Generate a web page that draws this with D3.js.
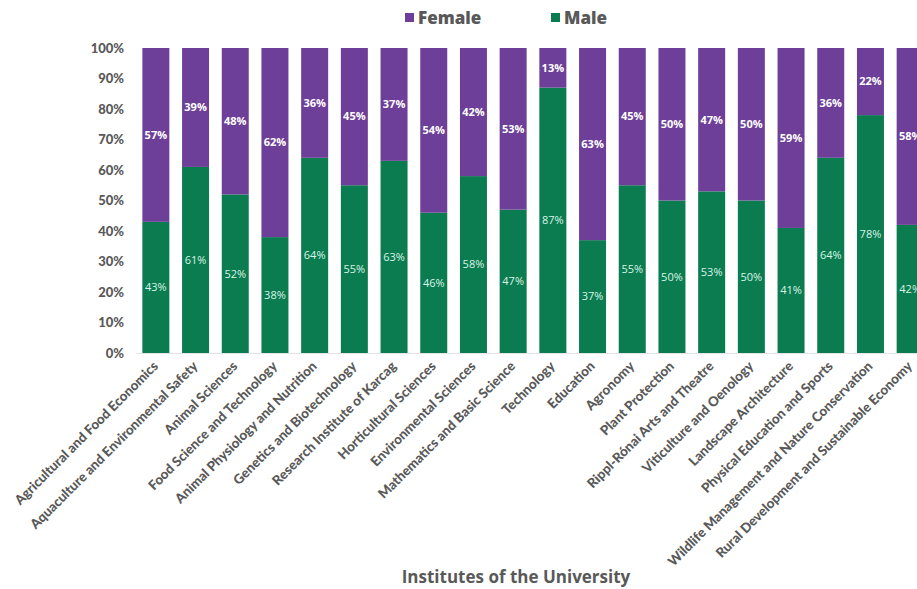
<!DOCTYPE html>
<html>
<head>
<meta charset="utf-8">
<script src="https://cdn.jsdelivr.net/npm/d3@7"></script>
<style>
  html, body { margin: 0; padding: 0; background: #fff; overflow: hidden; }
  svg { display: block; }
</style>
</head>
<body>
<svg id="chart" width="917" height="589"></svg>
<script>
// Institutes of the university
const institutes = [
  "Agricultural  and Food Economics",
  "Aquaculture and Environmental Safety",
  "Animal Sciences",
  "Food Science and Technology",
  "Animal Physiology and Nutrition",
  "Genetics and Biotechnology",
  "Research Institute of Karcag",
  "Horticultural Sciences",
  "Environmental Sciences",
  "Mathematics and Basic Science",
  "Technology",
  "Education",
  "Agronomy",
  "Plant Protection",
  "Rippl-Rónai Arts and Theatre",
  "Viticulture and Oenology",
  "Landscape Architecture",
  "Physical Education and Sports",
  "Wildlife Management and Nature Conservation",
  "Rural Development and Sustainable Economy"
];

// Share of male and female staff, percent
const malePct   = [43, 61, 52, 38, 64, 55, 63, 46, 58, 47, 87, 37, 55, 50, 53, 50, 41, 64, 78, 42];
const femalePct = [57, 39, 48, 62, 36, 45, 37, 54, 42, 53, 13, 63, 45, 50, 47, 50, 59, 36, 22, 58];

const yTicks = [0, 10, 20, 30, 40, 50, 60, 70, 80, 90, 100];
const seriesNames = ["Female", "Male"];

const colors = { Female: "#6e3f98", Male: "#0b7b50" };
const axisGray = "#595959";

const svg = d3.select("#chart");

const rows = institutes.map((name, i) => ({ name, Male: malePct[i], Female: femalePct[i] }));
const stacked = d3.stack().keys(["Male", "Female"])(rows);

const x = d3.scaleBand()
  .domain(institutes)
  .range([136, 930])
  .paddingInner(0.32)
  .paddingOuter(0.16);

const y = d3.scaleLinear().domain([0, 100]).range([353, 48]);

// Y axis labels
const yAxis = svg.append("g")
  .attr("transform", "translate(124,0)")
  .call(d3.axisLeft(y).tickValues(yTicks).tickFormat(d => d + "%").tickSize(0).tickPadding(0));
yAxis.select(".domain").remove();
yAxis.selectAll("text")
  .attr("fill", axisGray)
  .style("font-family", "Lato, 'Open Sans', sans-serif")
  .style("font-weight", "900")
  .style("font-size", "13px");

// Baseline
svg.append("line")
  .attr("x1", 136).attr("x2", 917)
  .attr("y1", y(0) + 0.5).attr("y2", y(0) + 0.5)
  .attr("stroke", "#e4e4e4").attr("stroke-width", 1);

// Stacked bars
const layers = svg.append("g").selectAll("g")
  .data(stacked)
  .join("g")
  .attr("fill", d => colors[d.key]);

layers.selectAll("rect")
  .data(d => d.map(p => Object.assign(p, { key: d.key })))
  .join("rect")
  .attr("x", d => x(d.data.name))
  .attr("width", x.bandwidth())
  .attr("y", d => y(d[1]))
  .attr("height", d => y(d[0]) - y(d[1]));

// Value labels centred in each segment
layers.each(function (layer) {
  d3.select(this).selectAll("text")
    .data(layer)
    .join("text")
    .attr("x", d => x(d.data.name) + x.bandwidth() / 2)
    .attr("y", d => (y(d[0]) + y(d[1])) / 2)
    .attr("dy", "0.35em")
    .attr("text-anchor", "middle")
    .attr("fill", layer.key === "Female" ? "#ffffff" : "#d8f5e6")
    .style("font-family", "'Open Sans', sans-serif")
    .style("font-weight", layer.key === "Female" ? "700" : "400")
    .style("font-size", "11px")
    .text(d => (d[1] - d[0]) + "%");
});

// X axis category labels, rotated
const xLabels = svg.append("g");
xLabels.selectAll("text")
  .data(institutes)
  .join("text")
  .attr("transform", d => `translate(${x(d) + x.bandwidth() / 2 + 3},${367}) rotate(-45)`)
  .attr("text-anchor", "end")
  .attr("fill", axisGray)
  .style("font-family", "Lato, 'Open Sans', sans-serif")
  .style("font-weight", "900")
  .style("font-size", "13.4px")
  .text(d => d);

// Axis title
svg.append("text")
  .attr("x", 516)
  .attr("y", 583)
  .attr("text-anchor", "middle")
  .attr("fill", axisGray)
  .style("font-family", "'Open Sans', sans-serif")
  .style("font-weight", "700")
  .style("font-size", "17px")
  .text("Institutes of the University");

// Legend
const legendPos = { Female: 405, Male: 551 };
const legend = svg.append("g").selectAll("g")
  .data(seriesNames)
  .join("g")
  .attr("transform", d => `translate(${legendPos[d]},12)`);
legend.append("rect")
  .attr("width", 9).attr("height", 9)
  .attr("y", 1)
  .attr("fill", d => colors[d]);
legend.append("text")
  .attr("x", 13)
  .attr("y", 6)
  .attr("dy", "0.35em")
  .attr("fill", axisGray)
  .style("font-family", "'Open Sans', sans-serif")
  .style("font-weight", "800")
  .style("font-size", "17px")
  .text(d => d);
</script>
</body>
</html>
